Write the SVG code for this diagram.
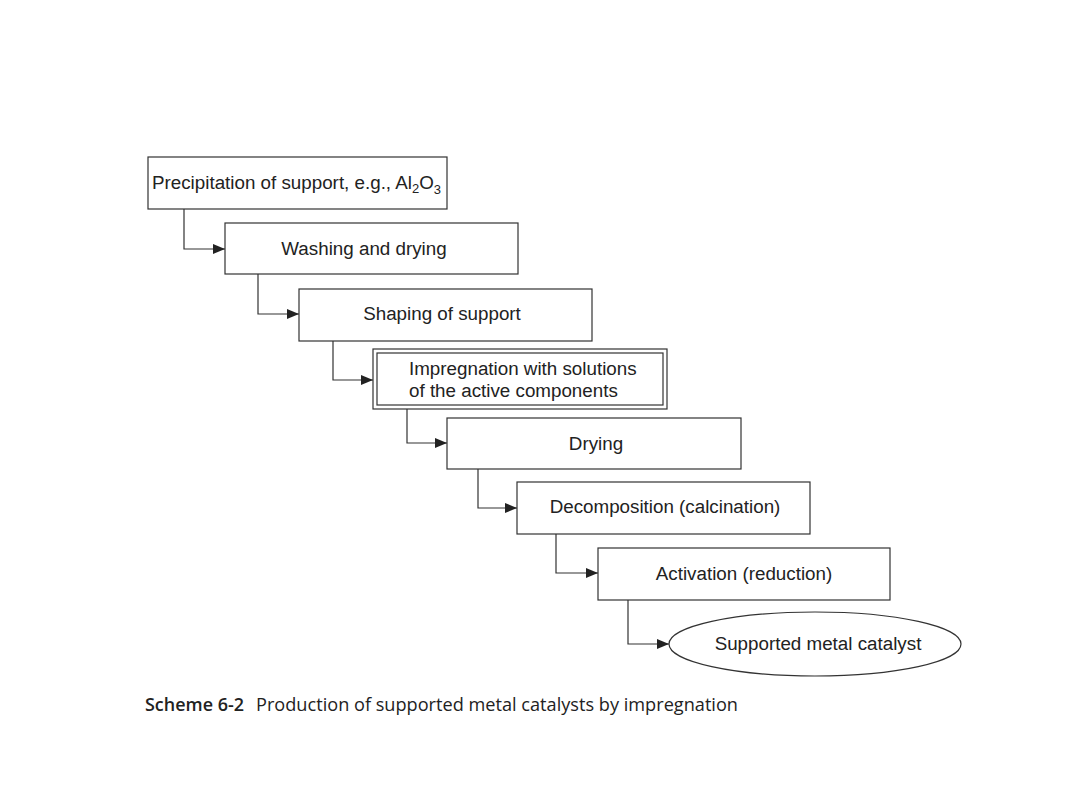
<svg xmlns="http://www.w3.org/2000/svg" width="1080" height="810" viewBox="0 0 1080 810">
<style>
.box{fill:#fff;stroke:#333;stroke-width:1.2}
.t{font-family:"Liberation Sans",Arial,sans-serif;font-size:18.8px;fill:#222}
.c{fill:none;stroke:#333;stroke-width:1.2}
.cap{font-family:"Open Sans","Noto Sans",sans-serif;font-size:18px;fill:#222}
</style>
<defs>
<marker id="ah" markerWidth="12" markerHeight="10" refX="12" refY="5" orient="auto" markerUnits="userSpaceOnUse">
<path d="M0,0 L12,5 L0,10 Z" fill="#222"/>
</marker>
</defs>
<rect width="1080" height="810" fill="#fff"/>
<g id="connectors">
<path class="c" d="M184,209 V249 H225" marker-end="url(#ah)"/>
<path class="c" d="M258,274 V314 H299" marker-end="url(#ah)"/>
<path class="c" d="M333,341 V380 H373" marker-end="url(#ah)"/>
<path class="c" d="M407,409 V443 H447" marker-end="url(#ah)"/>
<path class="c" d="M478,469 V508 H517" marker-end="url(#ah)"/>
<path class="c" d="M556,534 V573 H598" marker-end="url(#ah)"/>
<path class="c" d="M628,600 V644 H669" marker-end="url(#ah)"/>
</g>
<g id="n1">
<rect class="box" x="148" y="157" width="299" height="52"/>
<text class="t" x="152" y="189">Precipitation of support, e.g., Al<tspan font-size="13" dy="4">2</tspan><tspan dy="-4">O</tspan><tspan font-size="13" dy="5">3</tspan></text>
</g>
<g id="n2">
<rect class="box" x="225" y="223" width="293" height="51"/>
<text class="t" x="364" y="255" text-anchor="middle">Washing and drying</text>
</g>
<g id="n3">
<rect class="box" x="299" y="289" width="293" height="52"/>
<text class="t" x="442" y="320" text-anchor="middle">Shaping of support</text>
</g>
<g id="n4">
<rect class="box" x="373" y="349" width="294" height="60" stroke-width="1.6"/>
<rect class="box" x="377" y="353" width="286" height="52"/>
<text class="t" x="409" y="375">Impregnation with solutions</text>
<text class="t" x="409" y="397">of the active components</text>
</g>
<g id="n5">
<rect class="box" x="447" y="418" width="294" height="51"/>
<text class="t" x="596" y="450" text-anchor="middle">Drying</text>
</g>
<g id="n6">
<rect class="box" x="517" y="482" width="293" height="52"/>
<text class="t" x="665" y="513" text-anchor="middle">Decomposition (calcination)</text>
</g>
<g id="n7">
<rect class="box" x="598" y="548" width="292" height="52"/>
<text class="t" x="744" y="580" text-anchor="middle">Activation (reduction)</text>
</g>
<g id="n8">
<ellipse class="box" cx="815" cy="644" rx="146" ry="32"/>
<text class="t" x="818" y="650" text-anchor="middle">Supported metal catalyst</text>
</g>
<g id="caption">
<text class="cap" x="145" y="711" font-weight="600" textLength="99" lengthAdjust="spacingAndGlyphs">Scheme 6-2</text>
<text class="cap" x="256" y="711" textLength="482" lengthAdjust="spacingAndGlyphs">Production of supported metal catalysts by impregnation</text>
</g>
</svg>
